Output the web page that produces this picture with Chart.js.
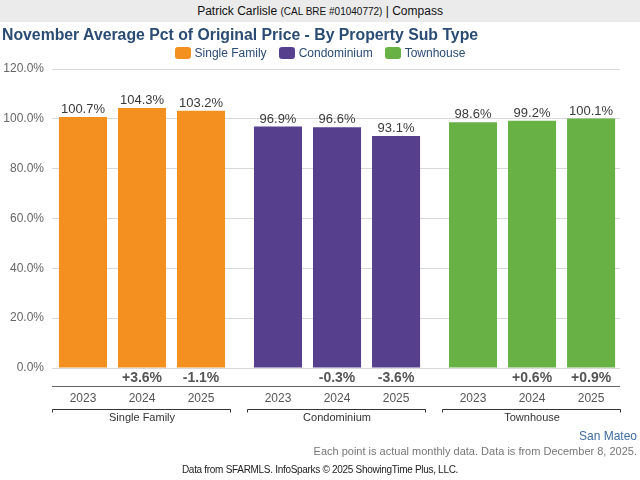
<!DOCTYPE html>
<html>
<head>
<meta charset="utf-8">
<script src="https://cdn.jsdelivr.net/npm/chart.js@4"></script>
<style>
  html, body { margin: 0; padding: 0; background: #fff; }
  body { width: 640px; height: 480px; position: relative; overflow: hidden; font-family: "Liberation Sans", Arial, sans-serif; }
  #wrap { position: absolute; left: 0; top: 0; width: 640px; height: 480px; }
  .abs { position: absolute; white-space: nowrap; }
  #header { left: 0; top: 0; width: 640px; height: 22px; background: #ebebeb; text-align: center; line-height: 22px; font-size: 12px; color: #111; }
  #header small { font-size: 10px; }
  #title { left: 2px; top: 25px; font-size: 15.8px; font-weight: bold; color: #2a4b73; line-height: 19px; }
  #legend { left: 0; top: 47px; width: 640px; text-align: center; font-size: 12px; color: #2a4b73; line-height: 13px; }
  #legend span.item { display: inline-block; margin: 0 6px; }
  #legend i { display: inline-block; width: 16px; height: 12px; border-radius: 3px; vertical-align: -2px; margin-right: 4px; }
  #place { right: 3px; top: 429px; font-size: 12px; color: #3e6ca3; }
  #note { right: 3px; top: 445px; font-size: 11px; color: #777; }
  #source { left: 0; top: 464px; width: 640px; text-align: center; font-size: 10px; color: #222; letter-spacing: -0.3px; }
</style>
</head>
<body>
<div id="wrap"><canvas id="pctChart"></canvas></div>
<div id="header" class="abs">Patrick Carlisle <small>(CAL BRE #01040772)</small> | Compass</div>
<div id="title" class="abs">November Average Pct of Original Price - By Property Sub Type</div>
<div id="legend" class="abs"></div>
<div id="place" class="abs">San Mateo</div>
<div id="note" class="abs">Each point is actual monthly data. Data is from December 8, 2025.</div>
<div id="source" class="abs">Data from SFARMLS. InfoSparks © 2025 ShowingTime Plus, LLC.</div>
<script>
// Data
const categories = ["Single Family", "Condominium", "Townhouse"];
const years = ["2023", "2024", "2025"];
const singleFamily = [100.7, 104.3, 103.2];
const condominium = [96.9, 96.6, 93.1];
const townhouse = [98.6, 99.2, 100.1];
const changeSingleFamily = [null, 3.6, -1.1];
const changeCondominium = [null, -0.3, -3.6];
const changeTownhouse = [null, 0.6, 0.9];
const yTicks = [0, 20, 40, 60, 80, 100, 120];

const typeColors = ["#f39020", "#56408e", "#68b145"];
const seriesByType = [singleFamily, condominium, townhouse];
const changesByType = [changeSingleFamily, changeCondominium, changeTownhouse];

// Legend (html)
document.getElementById("legend").innerHTML = categories
  .map((c, i) => '<span class="item"><i style="background:' + typeColors[i] + '"></i>' + c + "</span>")
  .join("");

const FONT = "'Liberation Sans', Arial, sans-serif";

// labels under / over the bars
const labelPlugin = {
  id: "barLabels",
  afterDraw(chart) {
    const ctx = chart.ctx;
    const area = chart.chartArea;
    const xScale = chart.scales.x;
    ctx.save();
    ctx.textAlign = "center";

    chart.data.datasets.forEach((ds, j) => {
      const meta = chart.getDatasetMeta(j);
      meta.data.forEach((bar, i) => {
        const v = ds.data[i].y;
        ctx.font = "13px " + FONT;
        ctx.fillStyle = "#3a3a3a";
        ctx.textBaseline = "bottom";
        ctx.fillText(v.toFixed(1) + "%", bar.x, bar.y - 1);

        const ch = changesByType[i][j];
        if (ch !== null) {
          ctx.font = "bold 14px " + FONT;
          ctx.fillStyle = "#555";
          ctx.textBaseline = "middle";
          ctx.fillText((ch > 0 ? "+" : "") + ch.toFixed(1) + "%", bar.x, area.bottom + 10);
        }

        ctx.font = "12px " + FONT;
        ctx.fillStyle = "#555";
        ctx.textBaseline = "middle";
        ctx.fillText(years[j], bar.x, area.bottom + 31);
      });
    });

    // axis line under the change labels
    ctx.strokeStyle = "#666";
    ctx.lineWidth = 1;
    ctx.beginPath();
    ctx.moveTo(area.left, area.bottom + 18.5);
    ctx.lineTo(area.right, area.bottom + 18.5);
    ctx.stroke();

    // group brackets
    ctx.strokeStyle = "#333";
    const by = area.bottom + 41.5;
    categories.forEach((c, i) => {
      const x0 = Math.round(xScale.getPixelForValue(i - 0.46)) + 0.5;
      const x1 = Math.round(xScale.getPixelForValue(i + 0.45)) + 0.5;
      ctx.beginPath();
      ctx.moveTo(x0, by + 3);
      ctx.lineTo(x0, by);
      ctx.lineTo(x1, by);
      ctx.lineTo(x1, by + 3);
      ctx.stroke();
    });
    ctx.restore();
  },
};

const config = {
  type: "bar",
  data: {
    datasets: years.map((yr, j) => ({
      label: yr,
      data: categories.map((c, i) => ({ x: i, y: seriesByType[i][j] })),
      backgroundColor: typeColors,
      categoryPercentage: 0.908,
      barPercentage: 0.814,
    })),
  },
  options: {
    responsive: true,
    maintainAspectRatio: false,
    animation: false,
    layout: {
      padding: { top: 69, right: 20, bottom: 0, left: 0 },
    },
    plugins: {
      legend: { display: false },
      tooltip: { enabled: false },
    },
    scales: {
      x: {
        type: "linear",
        offset: false,
        min: -0.4615,
        max: 2.451,
        afterFit: (axis) => { axis.height = 112; },
        grid: { display: false, drawTicks: false },
        border: { display: false },
        ticks: {
          stepSize: 1,
          includeBounds: false,
          maxRotation: 0,
          minRotation: 0,
          padding: 43,
          color: "#333",
          font: { size: 11, family: FONT },
          callback: (v) => categories[v],
        },
      },
      y: {
        min: 0,
        max: 120,
        afterFit: (axis) => { axis.width = 52; },
        afterBuildTicks: (axis) => { axis.ticks = yTicks.map((v) => ({ value: v })); },
        grid: { color: "#d9d9d9", drawTicks: false },
        border: { display: false },
        ticks: {
          padding: 8,
          color: "#666",
          font: { size: 12, family: FONT },
          callback: (v) => v.toFixed(1) + "%",
        },
      },
    },
  },
  plugins: [labelPlugin],
};

const chartContext = document.getElementById("pctChart");
const pctChart = new Chart(chartContext, config);
</script>
</body>
</html>
